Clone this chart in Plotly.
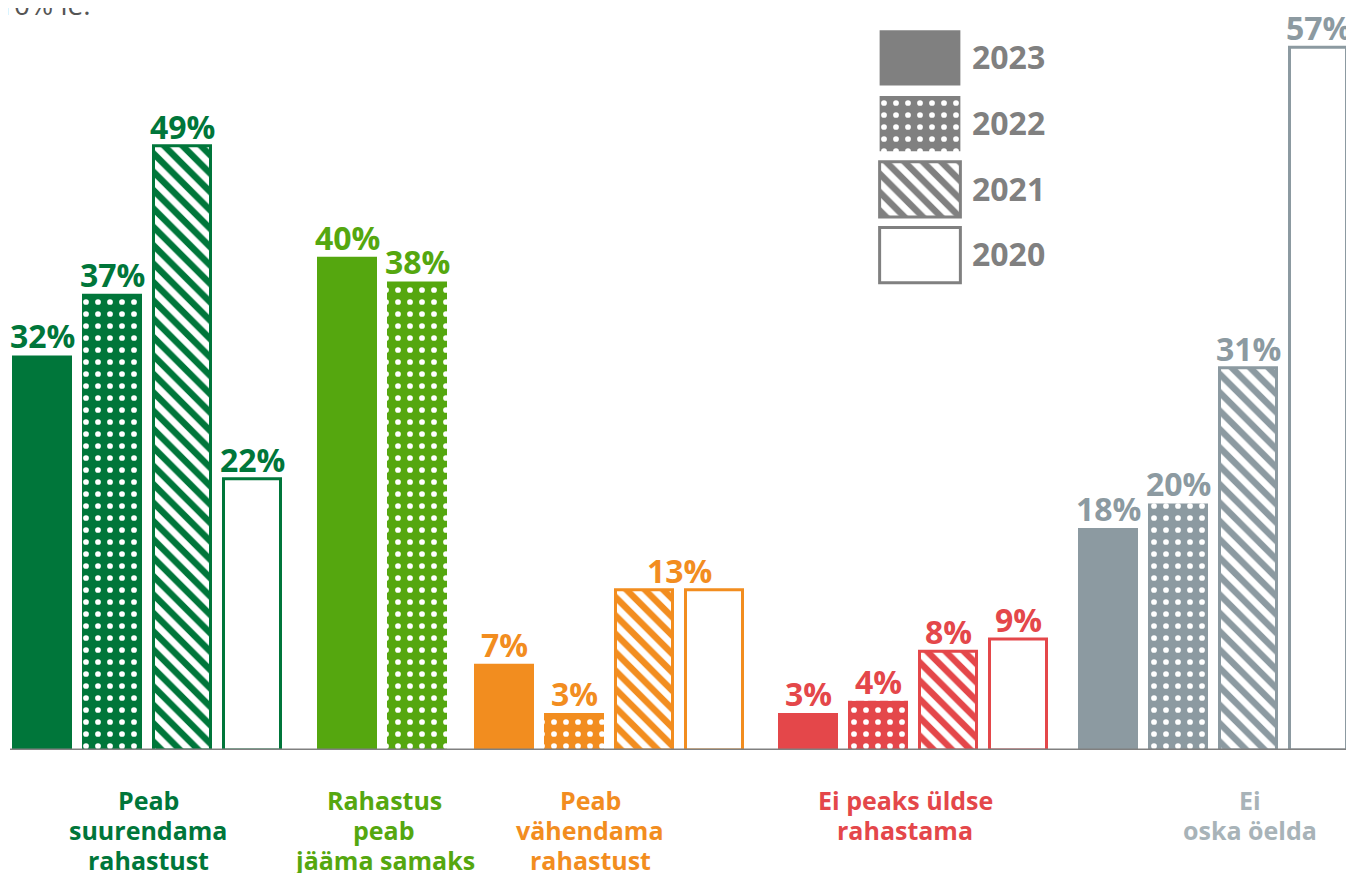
import plotly.graph_objects as go

years = ["2023", "2022", "2021", "2020"]
categories = ["Peab<br>suurendama<br>rahastust",
              "Rahastus<br>peab<br>jääma samaks",
              "Peab<br>vähendama<br>rahastust",
              "Ei peaks üldse<br>rahastama",
              "Ei<br>oska öelda"]
suurendama = [32, 37, 49, 22]
samaks = [40, 38]
vahendama = [7, 3, 13, 13]
ei_peaks = [3, 4, 8, 9]
ei_oska = [18, 20, 31, 57]
all_values = [suurendama, samaks, vahendama, ei_peaks, ei_oska]

colors = ["#00763A", "#55A70F", "#F28D1F", "#E4474A", "#8C9AA1"]
label_colors = ["#00763A", "#55A70F", "#F28D1F", "#E4474A", "#A8B3B8"]
legend_gray = "#808080"

# the page body has an 8px margin, so the figure is drawn 8px in from the window edge
# x axis is in window pixels, y axis in percent
OFF = 8
W, H = 1354 - OFF, 873 - OFF
base_px = 750                      # window y of the zero line
plot_h = base_px - OFF
group_start = [42, 347, 504, 808, 1108]   # centre of first bar in each group
step = 70
bar_w = 60
px_per_pct = 12.33
FONT = "Open Sans"

fig = go.Figure()


def add_bar(fig, x, y, yr_idx, color, **kw):
    if yr_idx == 0:
        marker = dict(color=color, line=dict(width=0))
    elif yr_idx == 1:
        marker = dict(color=color, line=dict(width=0),
                      pattern=dict(shape=".", fgcolor="white", bgcolor=color,
                                   size=12, solidity=0.18, fillmode="replace"))
    elif yr_idx == 2:
        marker = dict(color="white", line=dict(width=3, color=color),
                      pattern=dict(shape="\\", fgcolor=color, bgcolor="white",
                                   size=13, solidity=0.5, fillmode="replace"))
    else:
        marker = dict(color="white", line=dict(width=3, color=color))
    fig.add_trace(go.Bar(x=x, y=y, marker=marker, showlegend=False, **kw))


for c, vals in enumerate(all_values):
    for i, v in enumerate(vals):
        xc = group_start[c] + i * step
        add_bar(fig, [xc], [v], i, colors[c],
                width=[bar_w - (3 if i >= 2 else 0)], hoverinfo="skip")
        # equal neighbouring values share one label placed between the bars
        if i + 1 < len(vals) and vals[i + 1] == v:
            continue
        if i > 0 and vals[i - 1] == v:
            xc -= step / 2
        fig.add_annotation(x=xc, y=v, xref="x", yref="y", text=f"<b>{v}%</b>",
                           showarrow=False, yanchor="bottom", yshift=-4,
                           font=dict(family=FONT, size=32, color=colors[c]))

# legend boxes on their own small axes
for i, yr in enumerate(years):
    add_bar(fig, [1], [yr], i, legend_gray, orientation="h", width=[0.84],
            xaxis="x2", yaxis="y2", hoverinfo="skip")

fig.update_layout(
    width=W, height=H,
    margin=dict(l=0, r=0, t=0, b=H - plot_h),
    plot_bgcolor="white", paper_bgcolor="white",
    barmode="overlay",
    xaxis=dict(range=[OFF, OFF + W], visible=False),
    yaxis=dict(range=[0, plot_h / px_per_pct], visible=False),
    xaxis2=dict(domain=[(878 - OFF) / W, (962 - OFF) / W], range=[-0.02, 1.02],
                anchor="y2", visible=False),
    yaxis2=dict(domain=[1 - (288 - OFF) / plot_h, 1 - (25 - OFF) / plot_h], anchor="x2",
                categoryorder="array", categoryarray=years[::-1],
                side="right", showgrid=False, zeroline=False, showline=False,
                ticks="", ticklabelstandoff=9,
                tickfont=dict(family=FONT, size=32, color=legend_gray, weight="bold")),
    font=dict(family=FONT),
)

# baseline
fig.add_shape(type="line", x0=10, x1=1350, y0=0, y1=0, xref="x", yref="y",
              line=dict(color="#808080", width=3), layer="above")

# category labels, one annotation per line (lines are 30px apart)
label_x = [148, 384, 590, 905, 1250]
for c, txt in enumerate(categories):
    for j, line in enumerate(txt.split("<br>")):
        fig.add_annotation(x=label_x[c], xref="x",
                           y=-(800 + 30 * j - base_px) / plot_h, yref="paper",
                           text=f"<b>{line}</b>", showarrow=False, yanchor="middle",
                           font=dict(family=FONT, size=25, color=label_colors[c]))

# clipped text left over at the top
fig.add_annotation(x=0, y=1 - 17 / plot_h, xref="paper", yref="paper", xshift=-12,
                   text="10% le.", showarrow=False, xanchor="left", yanchor="bottom",
                   font=dict(family=FONT, size=28, color="#555555"))

fig.write_html("out.html")
